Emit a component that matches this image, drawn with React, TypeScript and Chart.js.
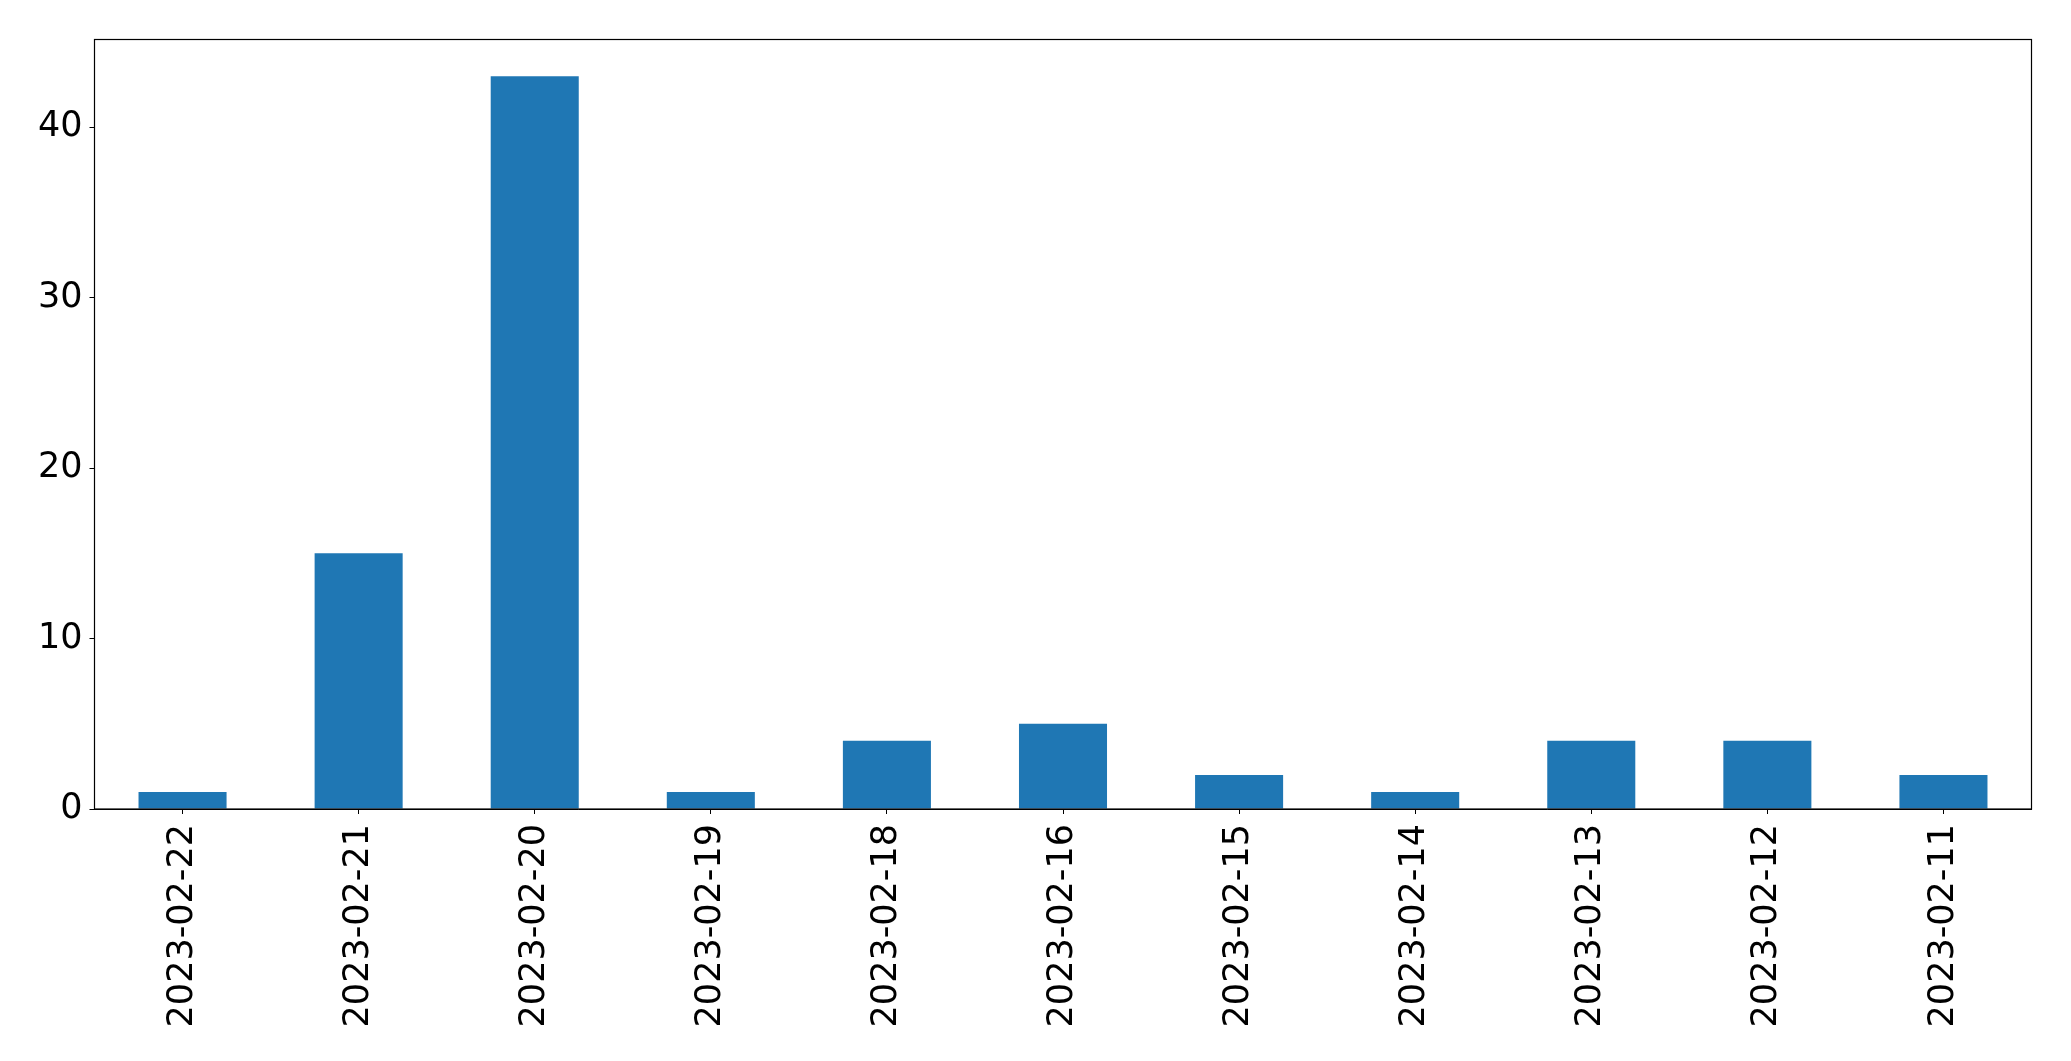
import React, { useEffect, useRef } from "react";
import { Chart, registerables } from "chart.js";

Chart.register(...registerables);

const categories: string[] = [
  "2023-02-22",
  "2023-02-21",
  "2023-02-20",
  "2023-02-19",
  "2023-02-18",
  "2023-02-16",
  "2023-02-15",
  "2023-02-14",
  "2023-02-13",
  "2023-02-12",
  "2023-02-11",
];
const counts: number[] = [1, 15, 43, 1, 4, 5, 2, 1, 4, 4, 2];
const yTicks: number[] = [0, 10, 20, 30, 40];
const yMax = 45.15;

const W = 2071;
const H = 1061;

const frame = {
  id: "frame",
  afterDatasetsDraw(chart: any) {
    const { ctx, chartArea } = chart;
    ctx.save();
    ctx.strokeStyle = "#000";
    ctx.lineWidth = 1.2;
    ctx.strokeRect(
      chartArea.left,
      chartArea.top,
      chartArea.right - chartArea.left,
      chartArea.bottom - chartArea.top
    );
    ctx.restore();
  },
};

export default function App() {
  const ref = useRef<HTMLCanvasElement | null>(null);
  useEffect(() => {
    if (!ref.current) return;
    const font = { family: "'DejaVu Sans'", size: 35 };
    const chart = new Chart(ref.current, {
      type: "bar",
      data: {
        labels: categories,
        datasets: [
          {
            data: counts,
            backgroundColor: "#1f77b4",
            categoryPercentage: 1,
            barPercentage: 0.5,
          },
        ],
      },
      options: {
        animation: false,
        responsive: false,
        devicePixelRatio: 1,
        layout: { padding: { left: 0, top: 39.5, right: 39.5, bottom: 0 } },
        plugins: { legend: { display: false }, tooltip: { enabled: false } },
        scales: {
          x: {
            offset: true,
            grid: {
              offset: false,
              drawOnChartArea: false,
              drawTicks: true,
              tickLength: 5,
              color: "#000",
            },
            border: { display: true, color: "#000" },
            ticks: {
              color: "#000",
              font,
              minRotation: 90,
              maxRotation: 90,
              autoSkip: false,
              padding: 10,
            },
            afterFit(scale: any) {
              scale.height = H - 809;
            },
          },
          y: {
            min: 0,
            max: yMax,
            grid: {
              drawOnChartArea: false,
              drawTicks: true,
              tickLength: 5,
              color: "#000",
            },
            border: { display: true, color: "#000" },
            ticks: {
              color: "#000",
              font,
              padding: 7,
              includeBounds: false,
              stepSize: 10,
            },
            afterBuildTicks(scale: any) {
              scale.ticks = yTicks.map((v) => ({ value: v }));
            },
            afterFit(scale: any) {
              scale.width = 94.5;
            },
          },
        },
      },
      plugins: [frame],
    });
    return () => chart.destroy();
  }, []);
  return (
    <div style={{ position: "absolute", left: 0, top: 0, width: W, height: H, background: "#fff" }}>
      <canvas ref={ref} width={W} height={H} style={{ display: "block" }} />
    </div>
  );
}
